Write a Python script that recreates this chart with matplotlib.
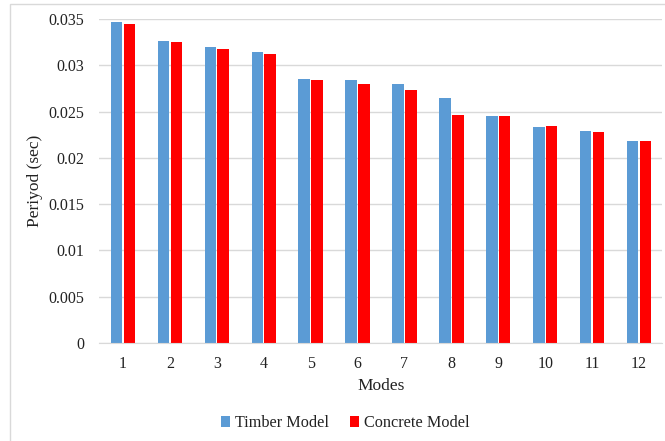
import matplotlib

matplotlib.use("Agg")

import matplotlib.pyplot as plt
import numpy as np
from matplotlib.patches import Rectangle

modes = ["1", "2", "3", "4", "5", "6", "7", "8", "9", "10", "11", "12"]
timber = [0.03468, 0.03259, 0.03194, 0.03144, 0.02852, 0.02844,
          0.02801, 0.02647, 0.02456, 0.02337, 0.02293, 0.02179]
concrete = [0.03443, 0.03248, 0.03180, 0.03125, 0.02838, 0.02795,
            0.02730, 0.02463, 0.02456, 0.02344, 0.02279, 0.02179]
yticks = [0, 0.005, 0.01, 0.015, 0.02, 0.025, 0.03, 0.035]
ytick_labels = ["0", "0.005", "0.01", "0.015", "0.02", "0.025", "0.03", "0.035"]

plt.rcParams["font.family"] = ["Liberation Serif", "DejaVu Serif"]
plt.rcParams["font.size"] = 11.5

fig = plt.figure(figsize=(6.65, 4.41), dpi=100)
ax = fig.add_axes([0.1496, 0.2222, 0.8466, 0.7347])

# light frame around the chart area
fig.patches.append(Rectangle((10 / 665, -0.2), 1.2, 1.2 - 3.5 / 441,
                             transform=fig.transFigure, fill=False,
                             edgecolor="#d9d9d9", linewidth=1.0, zorder=0))

x = np.arange(len(modes))
w = 0.245
off = 0.137
ax.bar(x - off, timber, w, color="#5b9bd5", label="Timber Model", zorder=3)
ax.bar(x + off, concrete, w, color="#ff0000", label="Concrete Model", zorder=3)

ax.set_xlim(-0.5, len(modes) - 0.5)
ax.set_ylim(0, 0.035)
ax.set_yticks(yticks)
ax.set_yticklabels(ytick_labels)
ax.set_xticks(x)
ax.set_xticklabels(modes)
ax.tick_params(axis="y", length=0, pad=11, colors="#222222")
ax.tick_params(axis="x", length=0, pad=9, colors="#222222")
ax.grid(axis="y", color="#d9d9d9", linewidth=1.0, zorder=0)
for s in ["top", "right", "left"]:
    ax.spines[s].set_visible(False)
ax.spines["bottom"].set_color("#d9d9d9")
ax.spines["bottom"].set_zorder(4)

ax.set_xlabel("Modes", labelpad=5, color="#222222", fontsize=12.5)
ax.set_ylabel("Periyod (sec)", color="#222222", fontsize=12.5)
ax.yaxis.set_label_coords((43 - 99.5) / 563.0, 0.5)

ax.legend(loc="center", bbox_to_anchor=(345.5 / 665, 1 - 423 / 441),
          bbox_transform=fig.transFigure, ncol=2, frameon=False,
          handlelength=0.55, handleheight=0.7, handletextpad=0.3,
          columnspacing=1.3, fontsize=11.7, labelcolor="#222222")

fig.savefig("out.png", dpi=100)
